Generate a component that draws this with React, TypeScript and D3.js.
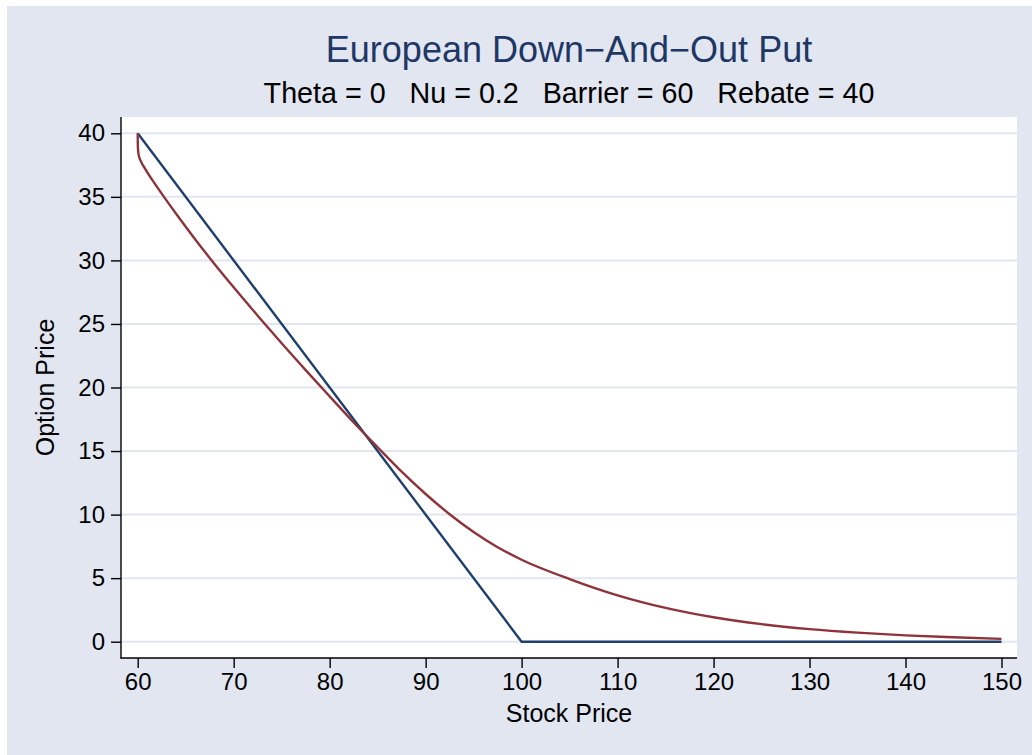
import React, { useEffect, useRef } from "react";
import * as d3 from "d3";

const titleText = "European Down\u2212And\u2212Out Put";
const subtitleText = "Theta = 0   Nu = 0.2   Barrier = 60   Rebate = 40";
const xLabel = "Stock Price";
const yLabel = "Option Price";
const xTicks = [60, 70, 80, 90, 100, 110, 120, 130, 140, 150];
const yTicks = [0, 5, 10, 15, 20, 25, 30, 35, 40];

// Payoff (blue)
const payoffS = [60, 100, 150];
const payoffV = [40, 0, 0];

// Option price (red)
const priceS = [60, 60.02, 60.1, 60.3, 60.7, 61.5, 62.5, 64, 66, 68, 70, 72.5, 75, 77.5, 80, 82.5, 85, 87.5, 90, 92.5, 95, 97.5, 100, 105, 110, 115, 120, 125, 130, 135, 140, 145, 150];
const priceV = [40, 38.88, 38.3, 37.85, 37.3, 36.35, 35.25, 33.67, 31.65, 29.72, 27.88, 25.65, 23.48, 21.37, 19.3, 17.25, 15.3, 13.38, 11.62, 10.03, 8.63, 7.43, 6.45, 4.93, 3.65, 2.66, 1.92, 1.38, 0.99, 0.71, 0.5, 0.35, 0.22];

const W = 1032;
const H = 755;
const plot = { left: 121, top: 117, right: 1017, bottom: 658 };
const FONT = "'Liberation Sans', Arial, Helvetica, sans-serif";

export default function App() {
  const ref = useRef<SVGSVGElement | null>(null);

  useEffect(() => {
    const svg = d3.select(ref.current);
    svg.selectAll("*").remove();

    const x = d3.scaleLinear().domain([60, 150]).range([137.7, 1001.5]);
    const y = d3.scaleLinear().domain([0, 40]).range([641.7, 133.3]);

    svg.append("rect").attr("x", 0).attr("y", 0).attr("width", W).attr("height", H).attr("fill", "#ffffff");
    svg.append("rect").attr("x", 7).attr("y", 6).attr("width", W - 7).attr("height", H - 6).attr("fill", "#e1e6f0");
    svg.append("rect")
      .attr("x", plot.left).attr("y", plot.top)
      .attr("width", plot.right - plot.left).attr("height", plot.bottom - plot.top)
      .attr("fill", "#ffffff");

    // gridlines
    svg.append("g").selectAll("line").data(yTicks).join("line")
      .attr("x1", plot.left).attr("x2", plot.right)
      .attr("y1", (d) => y(d)).attr("y2", (d) => y(d))
      .attr("stroke", "#e1e6f0").attr("stroke-width", 2);

    // axes
    const yAxis = d3.axisLeft(y).tickValues(yTicks).tickSize(10).tickPadding(6).tickSizeOuter(0);
    const gy = svg.append("g").attr("transform", `translate(${plot.left},0)`).call(yAxis);
    gy.select(".domain").remove();
    gy.append("line").attr("x1", 0).attr("x2", 0).attr("y1", plot.top).attr("y2", plot.bottom + 0.5)
      .attr("stroke", "#000").attr("stroke-width", 1.4);
    gy.selectAll(".tick line").attr("stroke", "#000").attr("stroke-width", 1.4);
    gy.selectAll(".tick text").attr("font-family", FONT).attr("font-size", 24).attr("fill", "#000");

    const xAxis = d3.axisBottom(x).tickValues(xTicks).tickSize(10).tickPadding(5).tickSizeOuter(0);
    const gx = svg.append("g").attr("transform", `translate(0,${plot.bottom})`).call(xAxis);
    gx.select(".domain").remove();
    gx.append("line").attr("x1", plot.left - 0.5).attr("x2", plot.right).attr("y1", 0).attr("y2", 0)
      .attr("stroke", "#000").attr("stroke-width", 1.4);
    gx.selectAll(".tick line").attr("stroke", "#000").attr("stroke-width", 1.4);
    gx.selectAll(".tick text").attr("font-family", FONT).attr("font-size", 24).attr("fill", "#000");

    // lines
    const line = d3.line<[number, number]>().x((d) => x(d[0])).y((d) => y(d[1]));
    const payoff: [number, number][] = payoffS.map((s, i) => [s, payoffV[i]]);
    const price: [number, number][] = priceS.map((s, i) => [s, priceV[i]]);
    const curve = d3.line<[number, number]>().x((d) => x(d[0])).y((d) => y(d[1])).curve(d3.curveMonotoneX);

    svg.append("path").attr("d", line(payoff) as string).attr("fill", "none")
      .attr("stroke", "#1f3f6e").attr("stroke-width", 2.4).attr("stroke-linejoin", "round");
    svg.append("path").attr("d", curve(price) as string).attr("fill", "none")
      .attr("stroke", "#8f333b").attr("stroke-width", 2.4).attr("stroke-linejoin", "round");

    // titles
    svg.append("text").attr("x", (plot.left + plot.right) / 2).attr("y", 62)
      .attr("text-anchor", "middle").attr("font-family", FONT).attr("font-size", 36)
      .attr("fill", "#1f3765").text(titleText);
    svg.append("text").attr("x", (plot.left + plot.right) / 2).attr("y", 103)
      .attr("text-anchor", "middle").attr("font-family", FONT).attr("font-size", 28.7)
      .attr("fill", "#000").style("white-space", "pre").attr("xml:space", "preserve").text(subtitleText);
    svg.append("text").attr("x", (plot.left + plot.right) / 2).attr("y", 722)
      .attr("text-anchor", "middle").attr("font-family", FONT).attr("font-size", 25)
      .attr("fill", "#000").text(xLabel);
    svg.append("text").attr("transform", `translate(54,${(plot.top + plot.bottom) / 2}) rotate(-90)`)
      .attr("text-anchor", "middle").attr("font-family", FONT).attr("font-size", 25)
      .attr("fill", "#000").text(yLabel);
  }, []);

  return (
    <svg ref={ref} width={W} height={H} style={{ position: "absolute", left: 0, top: 0, display: "block" }} />
  );
}
